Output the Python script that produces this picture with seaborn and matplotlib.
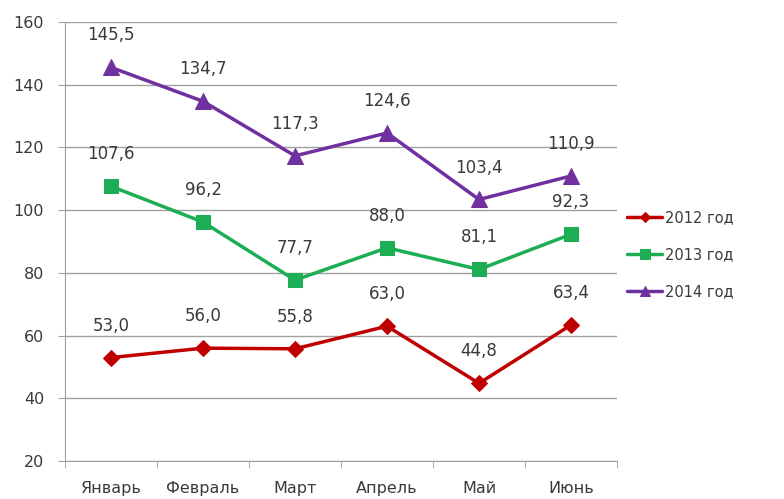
import pandas as pd
import numpy as np
import matplotlib.pyplot as plt
import seaborn as sns

# данные
months = ["Январь", "Февраль", "Март", "Апрель", "Май", "Июнь"]
years = ["2012 год", "2013 год", "2014 год"]
vals_2012 = [53.0, 56.0, 55.8, 63.0, 44.8, 63.4]
vals_2013 = [107.6, 96.2, 77.7, 88.0, 81.1, 92.3]
vals_2014 = [145.5, 134.7, 117.3, 124.6, 103.4, 110.9]

colors = ["#C00000", "#1BAE55", "#7030A0"]
markers = ["D", "s", "^"]
msizes = [8, 10, 11]

rows = []
for year, vals in zip(years, [vals_2012, vals_2013, vals_2014]):
    for i, v in enumerate(vals):
        rows.append({"pos": i + 0.5, "month": months[i], "year": year, "value": v})
df = pd.DataFrame(rows)

sns.set_style("white")
plt.rcParams['font.family'] = ['DejaVu Sans']

fig = plt.figure(figsize=(7.84, 4.99), dpi=100)
ax = fig.add_axes([0.083, 0.076, 0.704, 0.880])

for year, c, m, ms in zip(years, colors, markers, msizes):
    sub = df[df["year"] == year]
    sns.lineplot(data=sub, x="pos", y="value", color=c, marker=m, markersize=ms,
                 markeredgecolor=c, linewidth=2.5, label=year, ax=ax)
    # подписи значений
    for _, r in sub.iterrows():
        ax.annotate(f"{r['value']:.1f}".replace(".", ","), (r["pos"], r["value"]),
                    xytext=(0, 23), textcoords="offset points", ha="center", va="center",
                    fontsize=12, color="#3A3A3A")

ax.set_xlim(0, 6)
ax.set_ylim(20, 160)
ax.set_yticks(range(20, 161, 20))
ax.set_xticks(np.arange(6) + 0.5)
ax.set_xticklabels(months)
ax.set_xticks(np.arange(7), minor=True)
ax.tick_params(axis="x", which="major", bottom=True, length=0, pad=14, labelsize=11.5, colors="#3A3A3A")
ax.tick_params(axis="x", which="minor", bottom=True, length=5, color="#A0A0A0", direction="out")
ax.tick_params(axis="y", left=True, length=5, color="#A0A0A0", labelsize=11.5, labelcolor="#3A3A3A",
               direction="out", pad=10)
ax.yaxis.grid(True, color="#A0A0A0", linewidth=1)
ax.xaxis.grid(False)
for s in ["top", "right"]:
    ax.spines[s].set_visible(False)
ax.spines["left"].set_color("#A0A0A0")
ax.spines["bottom"].set_color("#A0A0A0")
ax.set_xlabel("")
ax.set_ylabel("")

ax.legend(loc="center left", bbox_to_anchor=(1.0, 0.47), frameon=False, fontsize=10.5,
          handlelength=2.4, handletextpad=0.2, labelspacing=1.5, borderaxespad=0.3,
          markerscale=0.7, labelcolor="#3A3A3A")

fig.savefig("out.png", dpi=100)
